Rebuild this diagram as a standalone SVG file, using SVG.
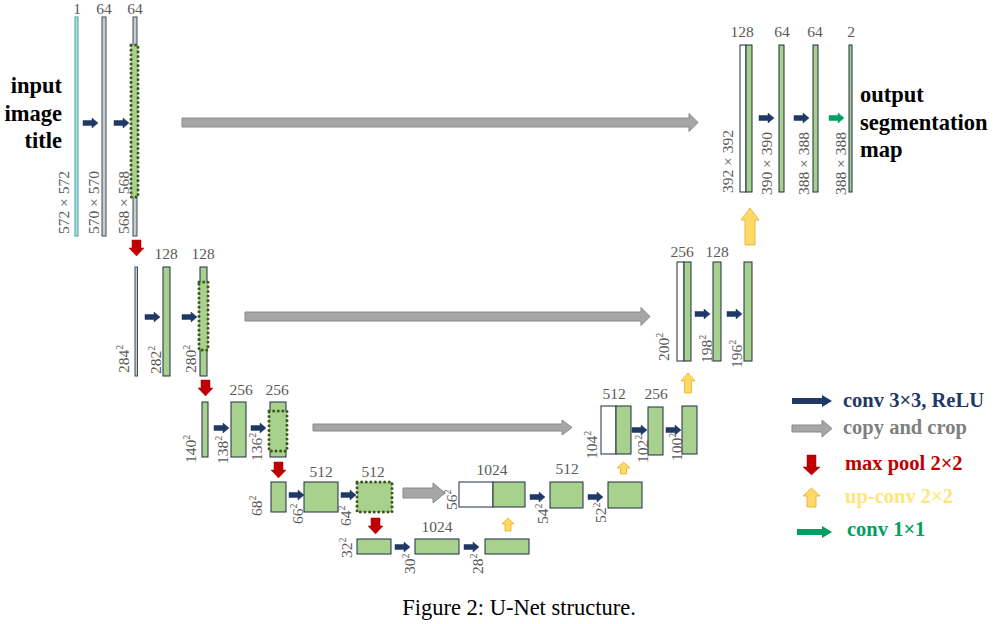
<svg xmlns="http://www.w3.org/2000/svg" xmlns:xlink="http://www.w3.org/1999/xlink" width="994" height="624" viewBox="0 0 994 624">
<style>
.lb{font-family:"Liberation Serif","Times New Roman",serif;font-size:15.5px;fill:#595959}
.c{text-anchor:middle}
.sup{font-size:10px}
.g{fill:#a9d18e;stroke:#1f2d45;stroke-width:1}
.w{fill:#ffffff;stroke:#1f2d45;stroke-width:1}
.gr{fill:#c6cdcd;stroke:#3e4c5c;stroke-width:1}
.dot{fill:#a9d18e;stroke:#3d5a1e;stroke-width:3;stroke-dasharray:0.1 4.5;stroke-linecap:round}
.cp{fill:#a6a6a6;stroke:#8a8a8a;stroke-width:1}
.rd{fill:#c00000;stroke:#a00000;stroke-width:0.5}
.yl{fill:#ffd966;stroke:#e0b020;stroke-width:0.8}
.bt{font-family:"Liberation Serif","Times New Roman",serif;font-weight:bold;font-size:22.5px;fill:#000}
.lg{font-family:"Liberation Serif","Times New Roman",serif;font-weight:bold;font-size:20.5px}
</style>
<defs>
<path id="ba" d="M0,-2.5H9V-5L15,0L9,5V2.5H0Z" fill="#1f3864" stroke="#1f3864" stroke-width="0.5"/>
<path id="ga" d="M0,-2.5H9V-5L15,0L9,5V2.5H0Z" fill="#00a060" stroke="#00a060" stroke-width="0.5"/>
</defs>

<g id="connectors">
<use href="#ba" x="83" y="123"/>
<use href="#ba" x="114" y="123"/>
<path class="cp" d="M182,118H689V113.5L698,122.5L689,131.5V127H182Z"/>
<use href="#ba" x="759" y="118"/>
<use href="#ba" x="794" y="118"/>
<use href="#ga" x="829" y="118"/>
<path class="yl" d="M745,245V220H741L750,208L759,220H755V245Z"/>
<path class="rd" d="M132,240H141V248H144L136.5,256L129,248H132Z"/>
<use href="#ba" x="145" y="317"/>
<use href="#ba" x="182" y="317"/>
<path class="cp" d="M245,312H641V307.5L650,316.5L641,325.5V321H245Z"/>
<use href="#ba" x="695" y="314"/>
<use href="#ba" x="727" y="314"/>
<path class="yl" d="M684.5,393V381H681L688,373L695,381H691.5V393Z"/>
<path class="rd" d="M201,380H210V388H213L205.5,396L198,388H201Z"/>
<use href="#ba" x="214" y="428"/>
<use href="#ba" x="251" y="428"/>
<path class="cp" d="M313,424H562V420L572,427.5L562,435V431H313Z"/>
<use href="#ba" x="632" y="430"/>
<use href="#ba" x="666" y="430"/>
<path class="yl" d="M620.5,474V468H617L623.5,462L630,468H626.5V474Z"/>
<path class="rd" d="M274,462H283V470H286L278.5,478L271,470H274Z"/>
<use href="#ba" x="289" y="495"/>
<use href="#ba" x="341" y="495"/>
<path class="cp" d="M403,488H433V483L445,493L433,503V498H403Z"/>
<use href="#ba" x="530" y="497"/>
<use href="#ba" x="588" y="497"/>
<path class="rd" d="M371,518H380V526H383L375.5,534L368,526H371Z"/>
<use href="#ba" x="395" y="547"/>
<use href="#ba" x="464" y="547"/>
<path class="yl" d="M505,531V524H502L508,518L514,524H511V531Z"/>
</g>

<g id="level1-left">
<rect x="75" y="17" width="3" height="219" fill="#b8e0e0" stroke="#3aa0a8" stroke-width="1"/>
<rect class="gr" x="102" y="17" width="4" height="219"/>
<rect class="gr" x="133" y="17" width="4" height="219"/>
<rect class="dot" x="131" y="45" width="7" height="152"/>
<text class="lb c" x="77" y="14">1</text>
<text class="lb c" x="104" y="14">64</text>
<text class="lb c" x="135" y="14">64</text>
<text class="lb" transform="translate(69,234) rotate(-90)">572 × 572</text>
<text class="lb" transform="translate(99,234) rotate(-90)">570 × 570</text>
<text class="lb" transform="translate(129,234) rotate(-90)">568 × 568</text>
<text class="bt" text-anchor="end" x="62" y="93">input</text>
<text class="bt" text-anchor="end" x="62" y="121">image</text>
<text class="bt" text-anchor="end" x="62" y="148">title</text>
</g>

<g id="level1-right">
<rect class="w" x="740" y="45" width="6" height="147"/>
<rect class="g" x="746" y="45" width="6" height="147"/>
<rect class="g" x="779" y="45" width="5" height="147"/>
<rect class="g" x="813" y="45" width="5" height="147"/>
<rect class="g" x="849" y="45" width="3" height="147"/>
<text class="lb c" x="742" y="37">128</text>
<text class="lb c" x="782" y="37">64</text>
<text class="lb c" x="815" y="37">64</text>
<text class="lb c" x="851" y="37">2</text>
<text class="lb" transform="translate(733,193) rotate(-90)">392 × 392</text>
<text class="lb" transform="translate(772,195) rotate(-90)">390 × 390</text>
<text class="lb" transform="translate(809,195) rotate(-90)">388 × 388</text>
<text class="lb" transform="translate(846,195) rotate(-90)">388 × 388</text>
<text class="bt" x="860" y="102">output</text>
<text class="bt" x="860" y="130">segmentation</text>
<text class="bt" x="860" y="157">map</text>
</g>

<g id="level2-left">
<rect class="gr" x="135" y="267" width="2.5" height="109"/>
<rect class="g" x="163" y="267" width="7" height="109"/>
<rect class="g" x="200" y="267" width="7" height="109"/>
<rect class="dot" x="199" y="282" width="9" height="68"/>
<text class="lb c" x="166" y="259">128</text>
<text class="lb c" x="203" y="259">128</text>
<text class="lb" transform="translate(129,373) rotate(-90)">284<tspan class="sup" dy="-6">2</tspan></text>
<text class="lb" transform="translate(161,374) rotate(-90)">282<tspan class="sup" dy="-6">2</tspan></text>
<text class="lb" transform="translate(196,373) rotate(-90)">280<tspan class="sup" dy="-6">2</tspan></text>
</g>

<g id="level2-right">
<rect class="w" x="677" y="262" width="7" height="99"/>
<rect class="g" x="684" y="262" width="7" height="99"/>
<rect class="g" x="713" y="262" width="8" height="99"/>
<rect class="g" x="744" y="262" width="8" height="99"/>
<text class="lb c" x="682" y="257">256</text>
<text class="lb c" x="717" y="257">128</text>
<text class="lb" transform="translate(669,361) rotate(-90)">200<tspan class="sup" dy="-6">2</tspan></text>
<text class="lb" transform="translate(712,363) rotate(-90)">198<tspan class="sup" dy="-6">2</tspan></text>
<text class="lb" transform="translate(742,368) rotate(-90)">196<tspan class="sup" dy="-6">2</tspan></text>
</g>

<g id="level3-left">
<rect class="g" x="202" y="402" width="6" height="55"/>
<rect class="g" x="231" y="402" width="15" height="55"/>
<rect class="g" x="270" y="402" width="16" height="55"/>
<rect class="dot" x="269" y="411" width="18" height="40"/>
<text class="lb c" x="241" y="395">256</text>
<text class="lb c" x="277" y="395">256</text>
<text class="lb" transform="translate(196,463) rotate(-90)">140<tspan class="sup" dy="-6">2</tspan></text>
<text class="lb" transform="translate(228,464) rotate(-90)">138<tspan class="sup" dy="-6">2</tspan></text>
<text class="lb" transform="translate(262,461) rotate(-90)">136<tspan class="sup" dy="-6">2</tspan></text>
</g>

<g id="level3-right">
<rect class="w" x="601" y="406" width="15" height="48"/>
<rect class="g" x="616" y="406" width="15" height="48"/>
<rect class="g" x="648" y="407" width="15" height="48"/>
<rect class="g" x="682" y="406" width="15" height="48"/>
<text class="lb c" x="614" y="399">512</text>
<text class="lb c" x="656" y="399">256</text>
<text class="lb" transform="translate(597,459) rotate(-90)">104<tspan class="sup" dy="-6">2</tspan></text>
<text class="lb" transform="translate(648,463) rotate(-90)">102<tspan class="sup" dy="-6">2</tspan></text>
<text class="lb" transform="translate(682,461) rotate(-90)">100<tspan class="sup" dy="-6">2</tspan></text>
</g>

<g id="level4">
<rect class="g" x="271" y="482" width="15" height="30"/>
<rect class="g" x="304" y="482" width="34" height="30"/>
<rect class="dot" x="357" y="482" width="35" height="30"/>
<text class="lb c" x="321" y="477">512</text>
<text class="lb c" x="373" y="477">512</text>
<text class="lb" transform="translate(262,516) rotate(-90)">68<tspan class="sup" dy="-6">2</tspan></text>
<text class="lb" transform="translate(303,524) rotate(-90)">66<tspan class="sup" dy="-6">2</tspan></text>
<text class="lb" transform="translate(351,526) rotate(-90)">64<tspan class="sup" dy="-6">2</tspan></text>
<rect class="w" x="459" y="482" width="34" height="25"/>
<rect class="g" x="493" y="482" width="32" height="25"/>
<text class="lb c" x="492" y="475">1024</text>
<text class="lb" transform="translate(457,510) rotate(-90)">56<tspan class="sup" dy="-6">2</tspan></text>
<rect class="g" x="550" y="482" width="33" height="26"/>
<text class="lb c" x="567" y="474">512</text>
<rect class="g" x="608" y="482" width="34" height="26"/>
<text class="lb" transform="translate(548,524) rotate(-90)">54<tspan class="sup" dy="-6">2</tspan></text>
<text class="lb" transform="translate(606,523) rotate(-90)">52<tspan class="sup" dy="-6">2</tspan></text>
</g>

<g id="level5">
<rect class="g" x="357" y="539" width="34" height="15"/>
<rect class="g" x="415" y="539" width="44" height="15"/>
<rect class="g" x="485" y="539" width="44" height="15"/>
<text class="lb c" x="437" y="532">1024</text>
<text class="lb" transform="translate(352,558) rotate(-90)">32<tspan class="sup" dy="-6">2</tspan></text>
<text class="lb" transform="translate(415,574) rotate(-90)">30<tspan class="sup" dy="-6">2</tspan></text>
<text class="lb" transform="translate(483,574) rotate(-90)">28<tspan class="sup" dy="-6">2</tspan></text>
</g>

<g id="legend">
<path d="M792,398H822V395L832,401L822,407V404H792Z" fill="#1f3864"/>
<text class="lg" x="843" y="407" fill="#1f3864">conv 3×3, ReLU</text>
<path class="cp" d="M792,425H822V420L832,428.5L822,437V432H792Z"/>
<text class="lg" x="843" y="434" fill="#7f7f7f">copy and crop</text>
<path class="rd" d="M807,455H816V467H820L811.5,475L803,467H807Z"/>
<text class="lg" x="845" y="470" fill="#c00000">max pool 2×2</text>
<path class="yl" d="M807,507V496H803L811.5,488L820,496H816V507Z"/>
<text class="lg" x="845" y="503" fill="#ffe57a">up-conv 2×2</text>
<path d="M797,529H822V526L832,532L822,538V535H797Z" fill="#00a060"/>
<text class="lg" x="847" y="536" fill="#00a060">conv 1×1</text>
</g>

<text x="519" y="615" text-anchor="middle" font-family="Liberation Serif, Times New Roman, serif" font-size="22.5" fill="#000">Figure 2: U-Net structure.</text>
</svg>
